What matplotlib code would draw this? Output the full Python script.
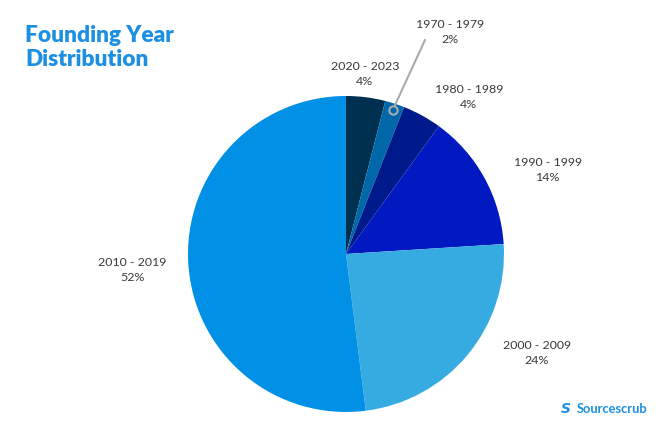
import matplotlib.pyplot as plt
import numpy as np

# Datos del gráfico (orden horario desde las 12)
decadas = ['2020 - 2023', '1970 - 1979', '1980 - 1989', '1990 - 1999', '2000 - 2009', '2010 - 2019']
porcentajes = [4, 2, 4, 14, 24, 52]
colores = ['#00304f', '#0068a8', '#001a8c', '#0019c0', '#36abe1', '#0090e6']

# Posiciones de las etiquetas (coordenadas de datos, radio = 1)
pos_etiquetas = [(0.12, 1.146), (0.658, 1.411), (0.778, 1.00),
                 (1.278, 0.538), (1.209, -0.620), (-1.354, -0.095)]

fig = plt.figure(figsize=(6.62, 4.31), dpi=100)
ax = fig.add_axes([0.284, 0.0418, 0.4773, 0.7332])

wedges, _ = ax.pie(porcentajes, colors=colores, startangle=90, counterclock=False,
                   wedgeprops=dict(linewidth=0))
ax.set_xlim(-1, 1)
ax.set_ylim(-1, 1)
ax.set_aspect('equal')
ax.axis('off')

for i, (lab, p) in enumerate(zip(decadas, porcentajes)):
    x, y = pos_etiquetas[i]
    ax.text(x, y, f"{lab}\n{p}%", ha='center', va='center', fontsize=8.9,
            family='Lato', color='#3a3a3a', linespacing=1.45, clip_on=False)

# Línea guía para la porción pequeña (1970 - 1979)
w = wedges[1]
ang = np.deg2rad((w.theta1 + w.theta2) / 2)
px, py = 0.96 * np.cos(ang), 0.96 * np.sin(ang)
ax.plot([px, 0.5], [py, 1.354], color='#aaaaaa', lw=1.5, clip_on=False, zorder=3)
ax.plot(px, py, 'o', ms=6, mfc='#0068a8', mec='#aaaaaa', mew=1.5, clip_on=False, zorder=4)

# Título
fig.text(25 / 662, 1 - 25 / 431, "Founding Year\nDistribution", ha='left', va='top',
         fontsize=16.3, fontweight='heavy', family='Lato', color='#1a8fe3', linespacing=1.2)

# Logo
fig.text(577 / 662, 1 - 409 / 431, "Sourcescrub", ha='left', va='center',
         fontsize=9.3, fontweight='bold', family='Lato', color='#1a8fe3')
fig.text(566 / 662, 1 - 409 / 431, "S", ha='center', va='center', fontsize=10,
         fontweight='heavy', style='italic', family='DejaVu Sans', color='#1a8fe3')

fig.savefig('out.png', dpi=100)
